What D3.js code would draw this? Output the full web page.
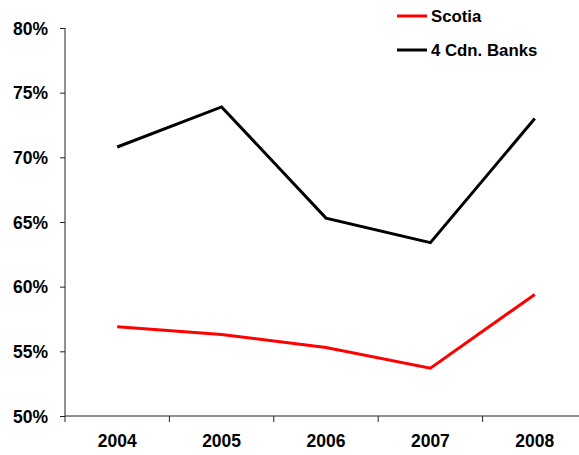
<!DOCTYPE html>
<html>
<head>
<meta charset="utf-8">
<script src="https://cdn.jsdelivr.net/npm/d3@7"></script>
<style>
  html, body { margin: 0; padding: 0; background: #fff; }
  svg { display: block; font-family: "Liberation Sans", Arial, sans-serif; font-weight: bold; }
</style>
</head>
<body>
<svg id="chart" width="579" height="455"></svg>
<script>
const years = ["2004", "2005", "2006", "2007", "2008"];
const scotia = [56.9, 56.3, 55.3, 53.7, 59.4];
const cdnBanks = [70.8, 73.9, 65.3, 63.4, 73.0];
const yTicks = [50, 55, 60, 65, 70, 75, 80];

const series = [
  { name: "Scotia", color: "#ff0000", values: scotia },
  { name: "4 Cdn. Banks", color: "#000000", values: cdnBanks }
];

const svg = d3.select("#chart");
const plotLeft = 65, plotRight = 587, plotTop = 28, plotBottom = 416;

const x = d3.scaleBand().domain(years).range([plotLeft, plotRight]);
const y = d3.scaleLinear().domain([50, 80]).range([plotBottom, plotTop]);

// y axis
const yAxis = svg.append("g")
  .attr("transform", `translate(${plotLeft},0)`)
  .call(d3.axisLeft(y).tickValues(yTicks).tickSize(5).tickPadding(12).tickFormat((d) => d + "%"));
yAxis.select(".domain").attr("stroke", "#222").attr("d", `M0,${plotTop}V${plotBottom}`);
yAxis.selectAll(".tick line").attr("stroke", "#222");
yAxis.selectAll(".tick text").attr("font-size", 17.5).attr("fill", "#000").attr("dy", "0.36em");

// x axis, ticks at band boundaries
const xAxis = svg.append("g").attr("transform", `translate(0,${plotBottom})`);
xAxis.append("line")
  .attr("x1", plotLeft).attr("x2", plotRight)
  .attr("stroke", "#222");
const bounds = years.map((d) => x(d)).concat([plotRight]);
xAxis.selectAll("line.tick")
  .data(bounds)
  .join("line")
  .attr("class", "tick")
  .attr("x1", (d) => d).attr("x2", (d) => d)
  .attr("y1", 0).attr("y2", 6)
  .attr("stroke", "#222");
xAxis.selectAll("text")
  .data(years)
  .join("text")
  .attr("x", (d) => x(d) + x.bandwidth() / 2)
  .attr("y", 31)
  .attr("text-anchor", "middle")
  .attr("font-size", 17.5)
  .text((d) => d);

// lines
const line = d3.line()
  .x((d, i) => x(years[i]) + x.bandwidth() / 2)
  .y((d) => y(d));

svg.append("g")
  .selectAll("path")
  .data(series)
  .join("path")
  .attr("d", (d) => line(d.values))
  .attr("fill", "none")
  .attr("stroke", (d) => d.color)
  .attr("stroke-width", 3)
  .attr("stroke-linejoin", "miter");

// legend
const legend = svg.append("g")
  .selectAll("g")
  .data(series)
  .join("g")
  .attr("transform", (d, i) => `translate(397,${16 + i * 34})`);
legend.append("line")
  .attr("x1", 0).attr("x2", 30)
  .attr("stroke", (d) => d.color)
  .attr("stroke-width", 3);
legend.append("text")
  .attr("x", 34)
  .attr("dy", "0.36em")
  .attr("font-size", 16.8)
  .text((d) => d.name);
</script>
</body>
</html>
